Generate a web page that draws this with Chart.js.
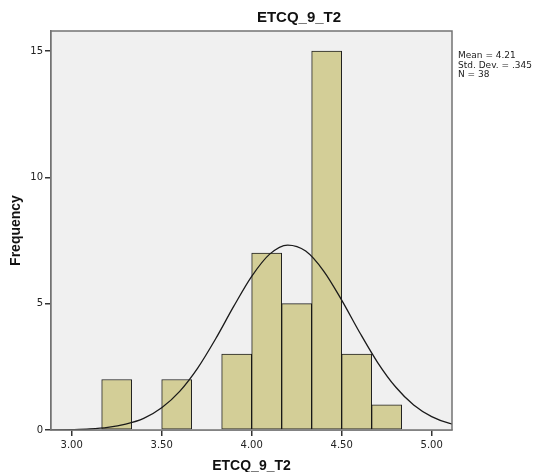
<!DOCTYPE html>
<html><head><meta charset="utf-8">
<script src="https://cdn.jsdelivr.net/npm/chart.js@4"></script>
<style>html,body{margin:0;padding:0;background:#fff}canvas{display:block}</style>
</head><body>
<canvas id="c" width="542" height="472" style="width:542px;height:472px"></canvas>
<script>
const chartTitle = 'ETCQ_9_T2';
const xAxisTitle = 'ETCQ_9_T2';
const yAxisTitle = 'Frequency';
const statsLines = ['Mean = 4.21', 'Std. Dev. = .345', 'N = 38'];
const binLower = [3.1667, 3.5, 3.8333, 4.0, 4.1667, 4.3333, 4.5, 4.6667];
const binUpper = [3.3333, 3.6667, 4.0, 4.1667, 4.3333, 4.5, 4.6667, 4.8333];
const counts = [2, 2, 3, 7, 5, 15, 3, 1];
const xTicks = [3.0, 3.5, 4.0, 4.5, 5.0];
const yTicks = [0, 5, 10, 15];
const curveX = [2.8, 2.9, 3.0, 3.1, 3.2, 3.3, 3.4, 3.5, 3.6, 3.7, 3.8, 3.9, 4.0, 4.1, 4.2, 4.3, 4.4, 4.5, 4.6, 4.7, 4.8, 4.9, 5.0, 5.1, 5.2];
const curveY = [0.002, 0.005, 0.016, 0.04, 0.10, 0.23, 0.46, 0.88, 1.53, 2.45, 3.61, 4.89, 6.08, 6.96, 7.32, 7.08, 6.29, 5.14, 3.86, 2.67, 1.70, 0.99, 0.53, 0.26, 0.12];

const barData = counts.map((c, i) => ({ x: (binLower[i] + binUpper[i]) / 2, y: c }));
const curveData = curveX.map((x, i) => ({ x: x, y: curveY[i] }));

const frame = {
  id: 'frame',
  beforeDatasetsDraw(chart) {
    const a = chart.chartArea, ctx = chart.ctx;
    ctx.save();
    ctx.fillStyle = '#f0f0f0';
    ctx.fillRect(a.left, a.top, a.right - a.left, a.bottom - a.top);
    ctx.restore();
  },
  afterDraw(chart) {
    const a = chart.chartArea, ctx = chart.ctx;
    ctx.save();
    ctx.strokeStyle = '#737373';
    ctx.lineWidth = 1.5;
    ctx.strokeRect(a.left, a.top, a.right - a.left, a.bottom - a.top);
    ctx.fillStyle = '#111';
    ctx.textBaseline = 'middle';
    ctx.textAlign = 'center';
    ctx.font = 'bold 15px "Liberation Sans"';
    ctx.fillText(chartTitle, 299, 18);
    ctx.font = 'bold 14px "Liberation Sans"';
    ctx.fillText(xAxisTitle, (a.left + a.right) / 2, 466);
    ctx.save();
    ctx.translate(16, (a.top + a.bottom) / 2);
    ctx.rotate(-Math.PI / 2);
    ctx.fillText(yAxisTitle, 0, 0);
    ctx.restore();
    ctx.textAlign = 'left';
    ctx.fillStyle = '#222';
    ctx.font = '9px "DejaVu Sans"';
    statsLines.forEach((s, i) => ctx.fillText(s, a.right + 6, 56 + i * 9.5));
    ctx.restore();
  }
};

new Chart(document.getElementById('c'), {
  type: 'bar',
  data: {
    datasets: [
      {
        type: 'line',
        data: curveData,
        borderColor: '#1a1a1a',
        borderWidth: 1.3,
        pointRadius: 0,
        fill: false,
        cubicInterpolationMode: 'monotone',
        order: 0
      },
      {
        type: 'bar',
        data: barData,
        backgroundColor: 'rgb(211,206,151)',
        borderColor: 'rgba(10,10,10,0.9)',
        borderWidth: 1,
        borderSkipped: false,
        barPercentage: 1,
        categoryPercentage: 1,
        order: 1
      }
    ]
  },
  options: {
    responsive: false,
    animation: false,
    devicePixelRatio: 1,
    layout: { padding: { top: 31, right: 90, left: 0, bottom: 0 } },
    plugins: { legend: { display: false }, tooltip: { enabled: false }, title: { display: false } },
    scales: {
      x: {
        type: 'linear',
        min: 2.885,
        max: 5.113,
        offset: false,
        grid: { offset: false, drawOnChartArea: false, drawTicks: true, tickLength: 6, color: '#333', lineWidth: 1.5 },
        border: { display: true, color: '#737373', width: 1.5 },
        ticks: {
          font: { family: 'DejaVu Sans', size: 10 },
          color: '#222',
          padding: 3,
          maxRotation: 0,
          autoSkip: false,
          callback: v => Number(v).toFixed(2)
        },
        afterBuildTicks: s => { s.ticks = xTicks.map(v => ({ value: v })); },
        afterFit: s => { s.height = 42; }
      },
      y: {
        type: 'linear',
        min: 0,
        max: 15.79,
        grid: { drawOnChartArea: false, drawTicks: true, tickLength: 6, color: '#333', lineWidth: 1.5 },
        border: { display: true, color: '#737373', width: 1.5 },
        ticks: {
          font: { family: 'DejaVu Sans', size: 10 },
          color: '#222',
          padding: 2,
          autoSkip: false
        },
        afterBuildTicks: s => { s.ticks = yTicks.map(v => ({ value: v })); },
        afterFit: s => { s.width = 51; }
      }
    }
  },
  plugins: [frame]
});
</script>
</body></html>
